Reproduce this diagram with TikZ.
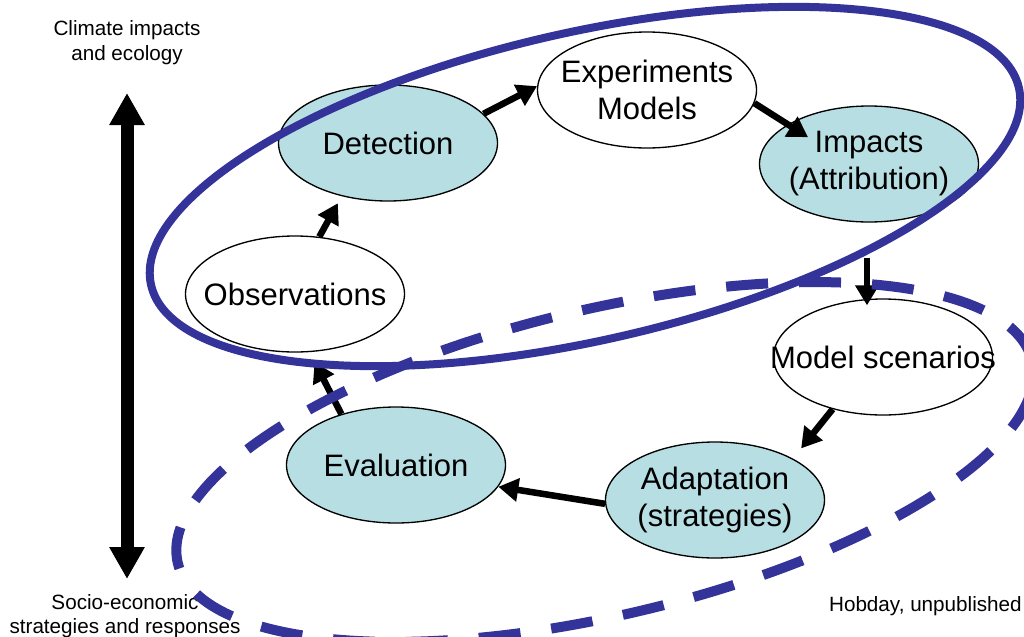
\documentclass[tikz,border=0pt]{standalone}
\usepackage{fontspec}
\setmainfont{Liberation Sans}
\usetikzlibrary{arrows.meta,shapes.geometric,calc}
\definecolor{ovalblue}{RGB}{51,51,153}
\definecolor{cyanfill}{RGB}{183,223,227}
\begin{document}
\begin{tikzpicture}[x=0.75pt,y=-0.75pt,
  oval/.style={ellipse,draw=black,line width=1pt,minimum width=0.75pt*219,minimum height=0.75pt*116,inner xsep=-40pt,inner ysep=0pt,align=center,font=\fontsize{23.25}{27.75}\selectfont},
  filled/.style={oval,fill=cyanfill},
  plain/.style={oval,fill=white},
  flow/.style={line width=4.9pt,-{Triangle[length=15pt,width=17pt]}},
  bigarrow/.style={line width=9.75pt,{Triangle[length=24pt,width=25pt]}-{Triangle[length=24pt,width=25pt]}},
  corner/.style={font=\fontsize{15.5}{18.75}\selectfont,inner sep=0pt,anchor=base},
  solidring/.style={draw=ovalblue,line width=6pt},
  dashring/.style={draw=ovalblue,line width=7.5pt,dash pattern=on 31.5pt off 23.25pt,dash phase=32pt}
]
\useasboundingbox (0,0) rectangle (1024,636);
\fill[white] (0,0) rectangle (1024,636);
\clip (0,0) rectangle (1024,636);

% corner labels
\node[corner] (c1) at (127,35) {Climate impacts};
\node[corner] (c2) at (127,60) {and ecology};
\node[corner] (s1) at (125,609) {Socio-economic};
\node[corner] (s2) at (125,633) {strategies and responses};
\node[corner,anchor=base east] (hob) at (1022,611) {Hobday, unpublished};

% vertical double arrow
\coordinate (up) at (127,93);
\coordinate (down) at (127,579);
\draw[bigarrow] (up) -- (down);

% nodes
\node[filled] (det) at (388,143) {Detection};
\node[plain]  (exp) at (647,90)  {Experiments\\Models};
\node[filled] (imp) at (869,164) {Impacts\\(Attribution)};
\node[plain]  (obs) at (295,294) {Observations};
\node[plain]  (ms)  at (883,357) {Model scenarios};
\node[filled] (ad)  at (715,500) {Adaptation\\(strategies)};
\node[filled] (ev)  at (396,465) {Evaluation};

% connectors
\draw[flow,shorten >=6pt] (obs.67) -- (det.229);
\draw[flow] (det.17) -- (exp.178);
\draw[flow,shorten >=-18pt] (exp.-7) -- (imp.154);
\coordinate (impfoot) at ([xshift=-1.5pt]imp.south);
\draw[flow,shorten <=26.25pt,shorten >=-5.25pt] (impfoot) -- (impfoot |- ms.north);
\draw[flow,shorten >=9.75pt] (ms.226) -- (ad.28);
\draw[flow] (ad.182) -- (ev.-12);
\draw[flow,shorten >=8.25pt] (ev.137) -- (obs.-76);

% blue rings
\draw[solidring,rotate around={12.8:(585,186.5)}] (585,186.5) ellipse [x radius=445, y radius=154];
\draw[dashring,rotate around={13.3:(605,462)}] (605,462) ellipse [x radius=439, y radius=153];
\end{tikzpicture}
\end{document}
